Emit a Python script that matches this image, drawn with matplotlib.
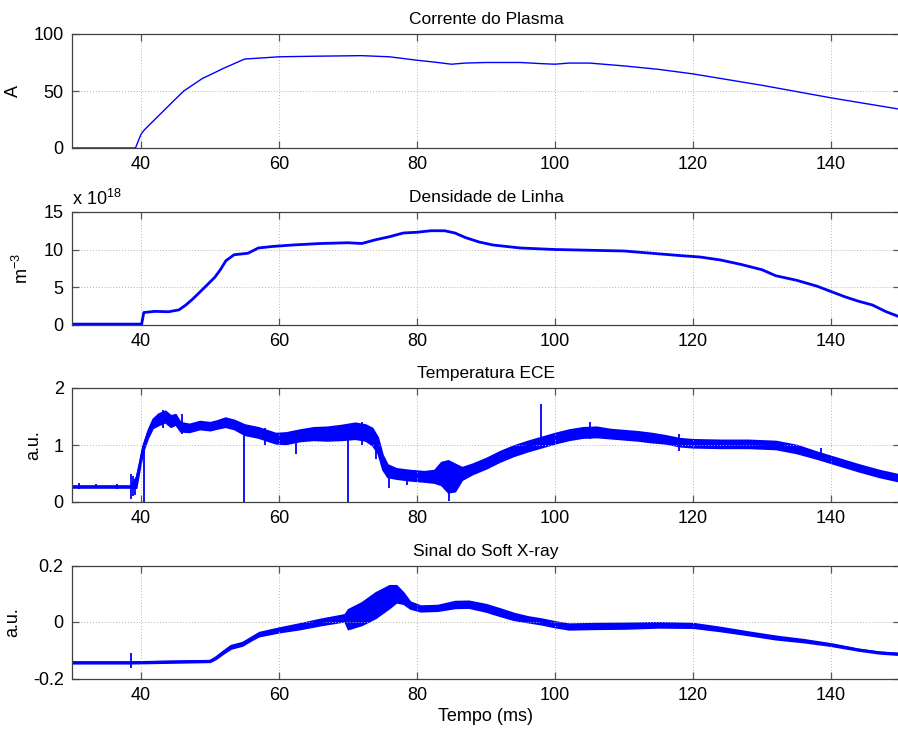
import numpy as np
import matplotlib
matplotlib.use("Agg")
import matplotlib.pyplot as plt

plt.rcParams["font.family"] = ["Liberation Sans", "DejaVu Sans"]
plt.rcParams["mathtext.fontset"] = "custom"
plt.rcParams["mathtext.rm"] = "Liberation Sans"
plt.rcParams["mathtext.it"] = "Liberation Sans"
plt.rcParams["font.size"] = 12.5

BLUE = "#0000ff"

# ---- Plasma current (A) ----
current_t = [30, 39.2, 39.6, 40, 40.5, 42, 44.5, 46.2, 48.9, 50.3, 52, 55, 60, 65, 72, 76,
             80, 83, 85, 87, 90, 95, 98, 100, 102, 105, 110, 115, 120, 125, 130, 135,
             140, 145, 150]
current_a = [0, 0, 6, 12, 16, 25, 40, 50, 61, 65, 70, 78, 80, 80.5, 81, 80,
             77, 75, 73.5, 74.5, 75, 75, 74, 73.5, 74.5, 74.5, 72, 69, 65, 60, 55, 49.5,
             44, 39, 34]

# ---- Line density (x 1e18 m^-3) ----
dens_t = [30, 40.1, 40.4, 42, 44, 45.5, 46.5, 47.5, 48.5, 49.5, 50.7, 51.5, 52.3, 53.5,
          55.5, 57, 59, 62, 66, 70, 72, 74, 76, 78, 80, 82, 84, 85.5, 87, 89, 91, 95,
          100, 105, 110, 114, 118, 121, 124, 127, 130, 132, 135, 138, 140, 142, 144,
          146, 148, 150]
dens_v = [0.05, 0.05, 1.6, 1.75, 1.7, 1.95, 2.6, 3.4, 4.3, 5.2, 6.3, 7.3, 8.5, 9.3,
          9.5, 10.2, 10.4, 10.6, 10.8, 10.9, 10.8, 11.3, 11.7, 12.2, 12.3, 12.5, 12.5,
          12.2, 11.6, 11.0, 10.6, 10.2, 10.0, 9.9, 9.8, 9.5, 9.2, 9.0, 8.6, 8.0, 7.3,
          6.5, 5.9, 5.1, 4.4, 3.7, 3.1, 2.6, 1.7, 1.0]

# ---- ECE temperature (a.u.): centre and fluctuation half-width ----
ece_t = [30, 38.5, 39.3, 39.8, 40.3, 41.0, 41.7, 42.5, 43.5, 44.3, 45.0, 45.7, 47, 48.5,
         50, 51, 52.2, 53.5, 55, 57, 59.5, 61, 63, 65, 67, 69, 71, 72.5, 73.5, 74.3,
         75.0, 75.7, 77, 79, 81, 82.5, 83.5, 84.5, 85.5, 86.5, 88, 90, 92, 94, 96, 98,
         100, 102, 104, 106, 108, 110, 112, 114, 116, 118, 120, 124, 128, 132, 135, 138,
         141, 144, 147, 150]
ece_c = [0.27, 0.27, 0.35, 0.65, 0.95, 1.2, 1.38, 1.45, 1.5, 1.42, 1.45, 1.32, 1.3, 1.35,
         1.33, 1.36, 1.4, 1.36, 1.27, 1.22, 1.12, 1.12, 1.17, 1.2, 1.2, 1.22, 1.25, 1.22,
         1.15, 1.0, 0.7, 0.55, 0.5, 0.47, 0.45, 0.45, 0.5, 0.45, 0.43, 0.5, 0.58, 0.68,
         0.8, 0.9, 0.98, 1.05, 1.12, 1.18, 1.22, 1.23, 1.2, 1.18, 1.16, 1.13, 1.1, 1.05,
         1.03, 1.02, 1.02, 1.0, 0.93, 0.82, 0.71, 0.6, 0.5, 0.42]
ece_h = [0.015, 0.015, 0.1, 0.06, 0.06, 0.07, 0.08, 0.1, 0.1, 0.1, 0.09, 0.08, 0.07, 0.07,
         0.07, 0.07, 0.08, 0.08, 0.09, 0.09, 0.09, 0.1, 0.1, 0.11, 0.12, 0.13, 0.14, 0.14,
         0.15, 0.14, 0.13, 0.11, 0.09, 0.09, 0.09, 0.11, 0.2, 0.28, 0.24, 0.11, 0.09, 0.09,
         0.09, 0.09, 0.09, 0.09, 0.09, 0.09, 0.09, 0.09, 0.08, 0.08, 0.08, 0.08, 0.07,
         0.07, 0.07, 0.07, 0.07, 0.07, 0.07, 0.06, 0.06, 0.06, 0.06, 0.06]
# isolated spikes: time, low, high
ece_spk_t = [31.0, 33.5, 36.5, 38.6, 38.9, 39.2, 40.4, 43.2, 46.0, 55.0, 58.0, 62.5,
             70.0, 72.0, 74.0, 76.0, 78.5, 84.7, 98.0, 105.0, 118.0, 138.5]
ece_spk_lo = [0.22, 0.24, 0.23, 0.05, 0.1, 0.12, 0.0, 1.3, 1.2, 0.0, 1.0, 0.85,
              0.0, 1.0, 0.75, 0.25, 0.3, 0.02, 1.0, 1.1, 0.9, 0.72]
ece_spk_hi = [0.33, 0.31, 0.32, 0.5, 0.45, 0.4, 0.95, 1.62, 1.55, 1.25, 1.3, 1.2,
              1.25, 1.4, 1.2, 0.6, 0.55, 0.5, 1.72, 1.4, 1.2, 0.95]

# ---- Soft X-ray signal (a.u.): centre and fluctuation half-width ----
sxr_t = [30, 38.5, 50, 50.8, 52, 53, 54.7, 56, 57.1, 60, 63, 66, 69.5, 70, 72, 74, 76,
         77, 78, 79, 80.5, 83, 85.5, 87.5, 90, 92, 94, 96, 98, 100, 102, 106, 110, 115,
         120, 124, 128, 132, 136, 140, 144, 147, 150]
sxr_c = [-0.143, -0.143, -0.138, -0.127, -0.105, -0.088, -0.077, -0.058, -0.043, -0.028,
         -0.015, 0.0, 0.015, 0.01, 0.03, 0.06, 0.09, 0.1, 0.085, 0.06, 0.048, 0.05, 0.062,
         0.063, 0.05, 0.035, 0.02, 0.01, 0.002, -0.008, -0.016, -0.014, -0.013, -0.01,
         -0.012, -0.025, -0.04, -0.055, -0.066, -0.08, -0.098, -0.108, -0.113]
sxr_h = [0.003, 0.003, 0.003, 0.004, 0.005, 0.006, 0.006, 0.006, 0.007, 0.008, 0.01,
         0.011, 0.012, 0.035, 0.04, 0.045, 0.04, 0.03, 0.02, 0.012, 0.01, 0.01, 0.012,
         0.012, 0.013, 0.013, 0.012, 0.01, 0.01, 0.01, 0.01, 0.01, 0.01, 0.009, 0.008,
         0.007, 0.006, 0.006, 0.005, 0.004, 0.003, 0.003, 0.003]
sxr_spk_t = [38.6]
sxr_spk_lo = [-0.162]
sxr_spk_hi = [-0.11]

titles = ["Corrente do Plasma", "Densidade de Linha", "Temperatura ECE",
          "Sinal do Soft X-ray"]
ylabels = ["A", "m$^{-3}$", "a.u.", "a.u."]
ylims = [(0, 100), (0, 15), (0, 2), (-0.2, 0.2)]
yticks = [[0, 50, 100], [0, 5, 10, 15], [0, 1, 2], [-0.2, 0, 0.2]]
ytick_labels = [["0", "50", "100"], ["0", "5", "10", "15"], ["0", "1", "2"],
                ["-0.2", "0", "0.2"]]
xticks = [40, 60, 80, 100, 120, 140]

W, H = 898, 733
fig = plt.figure(figsize=(W / 100, H / 100), dpi=100)

# axes boxes in pixels: (top, bottom)
boxes = [(34, 148), (212, 324.5), (388, 502), (565.5, 678.5)]
left_px, right_px = 72, 900

axes = []
for (top, bot) in boxes:
    ax = fig.add_axes([left_px / W, 1 - bot / H, (right_px - left_px) / W, (bot - top) / H])
    axes.append(ax)

for i, ax in enumerate(axes):
    ax.set_xlim(30, 150)
    ax.set_ylim(*ylims[i])
    ax.set_xticks(xticks)
    ax.set_yticks(yticks[i])
    ax.set_yticklabels(ytick_labels[i])
    ax.grid(True, linestyle=(0, (1, 2)), color="#b4b4b4", linewidth=0.7)
    ax.tick_params(direction="in", length=5, width=0.9, color="#555555",
                   top=True, right=True, labelsize=13, pad=6)
    for sp in ax.spines.values():
        sp.set_color("#404040")
        sp.set_linewidth(0.9)
    ax.set_title(titles[i], fontsize=12.5, pad=7)
    ax.set_ylabel(ylabels[i], fontsize=13, labelpad=8)

# plasma current
axes[0].plot(current_t, current_a, color=BLUE, lw=1.0)

# line density
axes[1].plot(dens_t, dens_v, color=BLUE, lw=2.0)
axes[1].text(0.0, 1.03, r"x 10$^{18}$", transform=axes[1].transAxes,
             ha="left", va="bottom", fontsize=13)

# ECE
ece_c_a = np.array(ece_c)
ece_h_a = np.array(ece_h)
axes[2].fill_between(ece_t, ece_c_a - ece_h_a, ece_c_a + ece_h_a, color=BLUE,
                     lw=1.2, edgecolor=BLUE)
axes[2].plot(ece_t, ece_c, color=BLUE, lw=1.8)
axes[2].vlines(ece_spk_t, ece_spk_lo, ece_spk_hi, color=BLUE, lw=1.3)

# Soft X-ray
sxr_c_a = np.array(sxr_c)
sxr_h_a = np.array(sxr_h)
axes[3].fill_between(sxr_t, sxr_c_a - sxr_h_a, sxr_c_a + sxr_h_a, color=BLUE,
                     lw=1.2, edgecolor=BLUE)
axes[3].plot(sxr_t, sxr_c, color=BLUE, lw=1.5)
axes[3].vlines(sxr_spk_t, sxr_spk_lo, sxr_spk_hi, color=BLUE, lw=1.3)
axes[3].set_xlabel("Tempo (ms)", fontsize=13, labelpad=3)

fig.savefig("out.png", dpi=100)
